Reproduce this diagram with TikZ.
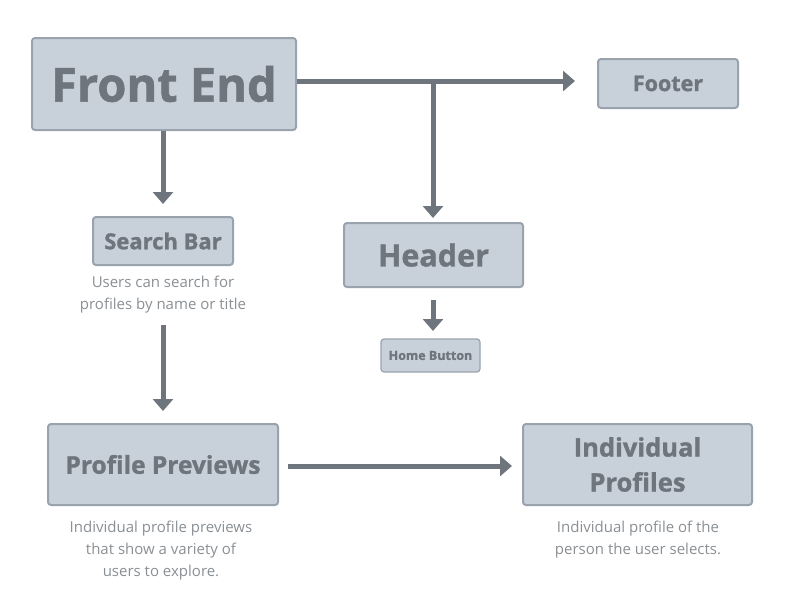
\documentclass[tikz,border=0pt]{standalone}
\usepackage{fontspec}
\setmainfont{Open Sans}[BoldFeatures={FakeBold=1.2}]
\usetikzlibrary{arrows.meta}
\definecolor{boxfill}{HTML}{C8D0DA}
\definecolor{boxline}{HTML}{9AA3AD}
\definecolor{ink}{HTML}{6E757C}
\definecolor{desc}{HTML}{8A8F94}
\tikzset{
  box/.style={draw=boxline, fill=boxfill, line width=2pt, rounded corners=3pt, text=ink, font=\bfseries, align=center, inner sep=0pt},
  conn/.style={draw=ink, line width=5pt},
  arr/.style={conn, -{Triangle[width=20pt,length=12pt]}},
  note/.style={text=desc, align=center, font=\fontsize{15}{22}\selectfont}
}
\begin{document}
\begin{tikzpicture}[x=1pt,y=-1pt]
\useasboundingbox (0,0) rectangle (800,600);
\node[box, minimum width=264pt, minimum height=92pt, font=\bfseries\fontsize{47}{50}\selectfont] (fe) at (164,84) {Front End};
\node[box, minimum width=140pt, minimum height=49pt, font=\bfseries\fontsize{21.5}{24}\selectfont] (footer) at (668,83.5) {Footer};
\node[box, minimum width=140pt, minimum height=48pt, font=\bfseries\fontsize{22}{24}\selectfont] (search) at (163,241) {Search Bar};
\node[box, minimum width=179pt, minimum height=64pt, font=\bfseries\fontsize{30.5}{32}\selectfont] (header) at (433.5,255) {Header};
\node[box, minimum width=99pt, minimum height=33pt, line width=1.2pt, font=\bfseries\fontsize{12.5}{14}\selectfont] (home) at (430.5,355.5) {Home Button};
\node[box, minimum width=230pt, minimum height=81pt, font=\bfseries\fontsize{24.5}{28}\selectfont] (pp) at (163,464.5) {Profile Previews};
\node[box, minimum width=229pt, minimum height=81pt, font=\bfseries\fontsize{25.5}{35}\selectfont] (ip) at (637.5,464.5) {Individual\\Profiles};
\node[note] (n1) at (163,295) {Users can search for\\profiles by name or title};
\node[note] (n2) at (161,551) {Individual profile previews\\that show a variety of\\users to explore.};
\node[note] (n3) at (638,540) {Individual profile of the\\person the user selects.};
\coordinate (fr) at (575,81);
\coordinate (br) at (433,81);
\coordinate (sbtop) at (163,204);
\coordinate (hdtop) at (433,218);
\coordinate (hmtop) at (433,331);
\coordinate (pptop) at (163,411);
\coordinate (iptip) at (512,466);
\draw[arr] (fe.east |- fr) -- (fr);
\draw[arr] (br) -- (hdtop);
\draw[arr] (fe.south -| sbtop) -- (sbtop);
\draw[arr] (433,300) -- (hmtop);
\draw[arr] (163,325) -- (pptop);
\draw[arr] (288,466) -- (iptip);
\end{tikzpicture}
\end{document}
